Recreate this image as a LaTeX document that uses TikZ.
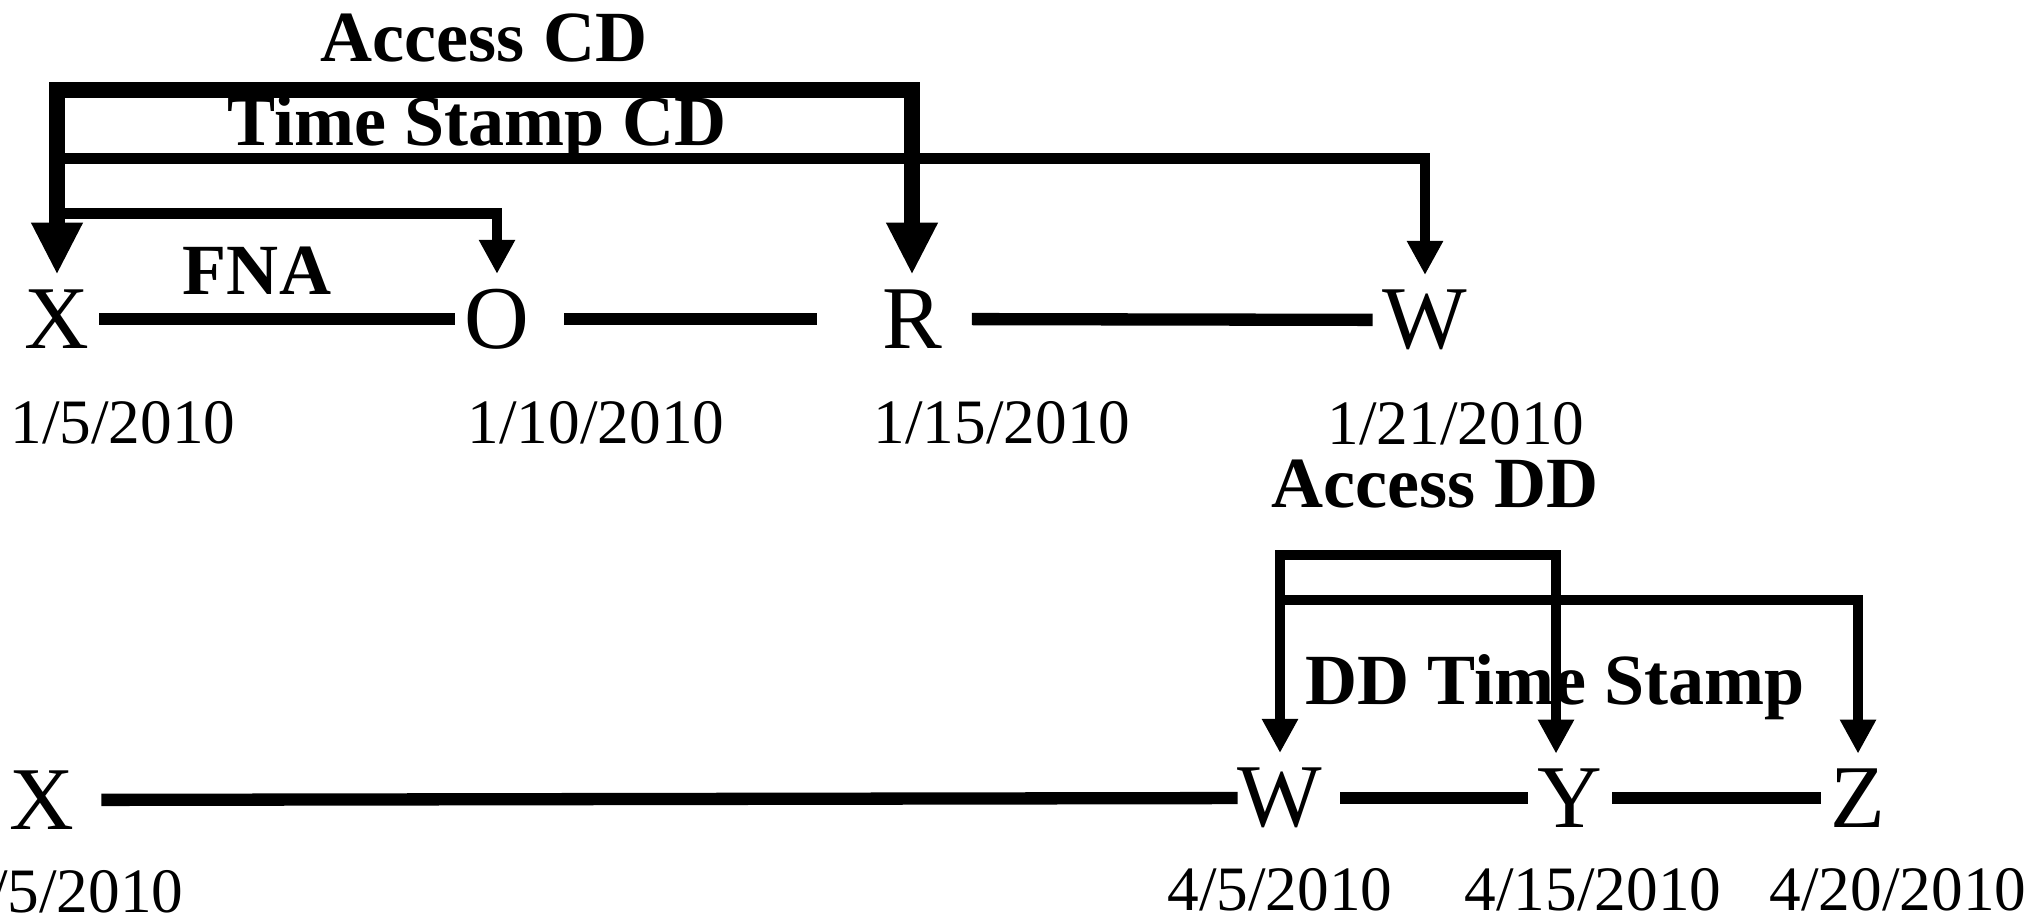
\documentclass[tikz,border=0pt]{standalone}
\usepackage{fontspec}
\setmainfont{Liberation Serif}
\usetikzlibrary{positioning,arrows.meta}

\begin{document}
\begin{tikzpicture}[
  node distance=0.37cm,
  evt/.style={inner sep=0pt, outer xsep=0.1cm, outer ysep=0.15cm, font=\fontsize{25.5}{30}\selectfont},
  date/.style={inner sep=0pt, font=\fontsize{18}{22}\selectfont},
  lbl/.style={inner sep=0pt, anchor=base, font=\fontsize{20.5}{24}\selectfont\bfseries},
  tl/.style={line width=3.5pt},
  bigarr/.style={line width=4.5pt, {Triangle[length=0.52cm,width=0.48cm]}-{Triangle[length=0.52cm,width=0.48cm]}},
  arr/.style={line width=3.1pt, -{Triangle[length=0.34cm,width=0.34cm]}},
  dblarr/.style={line width=3.1pt, {Triangle[length=0.34cm,width=0.34cm]}-{Triangle[length=0.34cm,width=0.34cm]}},
]
  \useasboundingbox (0,0) rectangle (20.39,9.19);

  % Upper timeline
  \node[evt] (X1) at (0.57,6.00) {X};
  \node[evt] (O) at (4.97,6.00) {O};
  \node[evt] (R) at (9.12,6.00) {R};
  \node[evt] (W1) at (14.25,5.99) {W};

  \node[date, below=0.37cm of X1, xshift=0.66cm] (dX1) {1/5/2010};
  \node[date, below=0.37cm of O, xshift=0.99cm] (dO) {1/10/2010};
  \node[date, below=0.37cm of R, xshift=0.90cm] (dR) {1/15/2010};
  \node[date, below=0.37cm of W1, xshift=0.31cm] (dW1) {1/21/2010};

  \draw[tl] (X1) -- (O);
  \draw[tl, shorten <=0.25cm, shorten >=0.55cm] (O) -- (R);
  \draw[tl, shorten <=0.2cm] (R) -- (W1);

  % Upper brackets
  \draw[bigarr] (X1.north) -- ++(0,1.85) -| (R.north);
  \draw[arr] (X1.north) ++(0,1.16) -| (W1.north);
  \draw[arr] (X1.north) ++(0,0.61) -| (O.north);

  \node[lbl] (acd) at (4.84,8.57) {Access CD};
  \node[lbl] (tscd) at (4.77,7.73) {Time Stamp CD};
  \node[lbl] (fna) at (2.57,6.24) {FNA};

  % Lower timeline
  \node[evt] (X2) at (0.42,1.19) {X};
  \node[evt] (W2) at (12.80,1.21) {W};
  \node[evt] (Y) at (15.70,1.21) {Y};
  \node[evt] (Z) at (18.58,1.21) {Z};

  \node[date, below=0.25cm of X2, xshift=0.29cm] (dX2) {1/5/2010};
  \node[date, below=0.25cm of W2] (dW2) {4/5/2010};
  \node[date, below=0.25cm of Y, xshift=0.23cm] (dY) {4/15/2010};
  \node[date, below=0.25cm of Z, xshift=0.40cm] (dZ) {4/20/2010};

  \draw[tl, shorten <=0.17cm, shorten >=-0.1cm] (X2) -- (W2);
  \draw[tl, shorten <=0.08cm] (W2) -- (Y);
  \draw[tl] (Y) -- (Z);

  % Lower brackets
  \draw[dblarr] (W2.north) -- ++(0,1.98) -| ([xshift=-0.14cm]Y.north);
  \draw[arr] (W2.north) ++(0,1.53) -| (Z.north);

  \node[lbl] (add) at (14.35,4.11) {Access DD};
  \node[lbl] (ddts) at (15.55,2.14) {DD Time Stamp};
\end{tikzpicture}
\end{document}
